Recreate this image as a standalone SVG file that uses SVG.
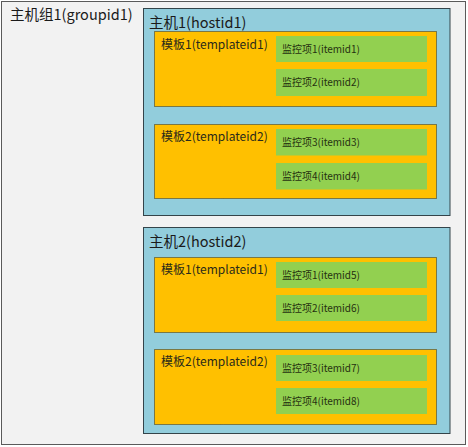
<svg xmlns="http://www.w3.org/2000/svg" width="468" height="447" viewBox="0 0 468 447">
<style>
text { font-family: "Noto Sans CJK SC", "Liberation Sans", sans-serif; }
.group { fill: #f2f2f2; stroke: #5a5a5a; stroke-width: 1; }
.host { fill: #92cddc; stroke: #34444a; stroke-width: 1; }
.tpl { fill: #ffc000; stroke: #2a2a1a; stroke-width: 1; stroke-dasharray: 1 1; }
.item { fill: #92d050; }
.t15 { font-size: 14.5px; fill: #1a1a1a; }
.t12 { font-size: 12px; fill: #2a2a1a; }
.t10 { font-size: 10px; fill: #263010; }
</style>
<g id="group1">
<rect class="group" x="1.5" y="1.5" width="464" height="443"/>
<text class="t15" x="10" y="20">主机组1(groupid1)</text>
</g>
<g id="host1">
<rect class="host" x="143.5" y="8.5" width="306.5" height="207"/>
<text class="t15" x="149" y="28">主机1(hostid1)</text>
</g>
<g id="host1-template1">
<rect class="tpl" x="154.5" y="31.5" width="282" height="75"/>
<text class="t12" x="161" y="49">模板1(templateid1)</text>
</g>
<g id="host1-item1">
<rect class="item" x="276" y="36" width="151" height="26"/>
<text class="t10" x="282" y="53">监控项1(itemid1)</text>
</g>
<g id="host1-item2">
<rect class="item" x="276" y="69" width="151" height="27"/>
<text class="t10" x="282" y="86">监控项2(itemid2)</text>
</g>
<g id="host1-template2">
<rect class="tpl" x="154.5" y="124.5" width="282" height="74"/>
<text class="t12" x="161" y="141">模板2(templateid2)</text>
</g>
<g id="host1-item3">
<rect class="item" x="276" y="129" width="151" height="26.5"/>
<text class="t10" x="282" y="146">监控项3(itemid3)</text>
</g>
<g id="host1-item4">
<rect class="item" x="276" y="163" width="151" height="26.5"/>
<text class="t10" x="282" y="180">监控项4(itemid4)</text>
</g>
<g id="host2">
<rect class="host" x="143.5" y="227.5" width="306.5" height="206"/>
<text class="t15" x="149" y="247">主机2(hostid2)</text>
</g>
<g id="host2-template1">
<rect class="tpl" x="154.5" y="257.5" width="282" height="75"/>
<text class="t12" x="161" y="274">模板1(templateid1)</text>
</g>
<g id="host2-item5">
<rect class="item" x="276" y="262" width="151" height="26"/>
<text class="t10" x="282" y="279">监控项1(itemid5)</text>
</g>
<g id="host2-item6">
<rect class="item" x="276" y="295" width="151" height="26"/>
<text class="t10" x="282" y="312">监控项2(itemid6)</text>
</g>
<g id="host2-template2">
<rect class="tpl" x="154.5" y="349.5" width="282" height="75"/>
<text class="t12" x="161" y="366">模板2(templateid2)</text>
</g>
<g id="host2-item7">
<rect class="item" x="276" y="355" width="151" height="26"/>
<text class="t10" x="282" y="372">监控项3(itemid7)</text>
</g>
<g id="host2-item8">
<rect class="item" x="276" y="388" width="151" height="26"/>
<text class="t10" x="282" y="405">监控项4(itemid8)</text>
</g>
</svg>
